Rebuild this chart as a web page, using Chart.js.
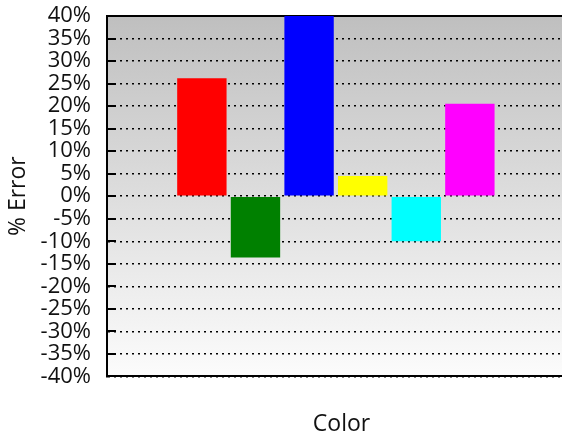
<!DOCTYPE html>
<html>
<head>
<meta charset="utf-8">
<script src="https://cdn.jsdelivr.net/npm/chart.js@4/dist/chart.umd.min.js"></script>
<style>
	html, body { margin: 0; padding: 0; background: #fff; overflow: hidden; }
	canvas { display: block; }
</style>
</head>
<body>
<canvas id="graficoErro" width="576" height="441"></canvas>
<script>
	var categorias = ['Red', 'Green', 'Blue', 'Yellow', 'Cyan', 'Magenta'];
	var valores = [26.2, -13.6, 40, 4.5, -10, 20.5];
	var cores = ['#ff0000', '#008000', '#0000ff', '#ffff00', '#00ffff', '#ff00ff'];
	var ticksY = [-40, -35, -30, -25, -20, -15, -10, -5, 0, 5, 10, 15, 20, 25, 30, 35, 40];

	var fonte = '"Open Sans", "Noto Sans", sans-serif';

	// fundo em degrade + marcas curtas no eixo
	var pluginFundo = {
		id: 'fundo',
		beforeDraw: function(chart) {
			var ctx = chart.ctx;
			var area = chart.chartArea;
			var grad = ctx.createLinearGradient(0, area.top, 0, area.bottom);
			grad.addColorStop(0, '#bfbfbf');
			grad.addColorStop(1, '#fcfcfc');
			ctx.save();
			ctx.fillStyle = grad;
			ctx.fillRect(area.left, area.top, area.right - area.left, area.bottom - area.top);
			ctx.restore();
		},
		beforeDatasetsDraw: function(chart) {
			var ctx = chart.ctx;
			var area = chart.chartArea;
			var y = chart.scales.y;
			ctx.save();
			ctx.strokeStyle = '#000';
			ctx.lineWidth = 2;
			ticksY.forEach(function(v) {
				var py = Math.round(y.getPixelForValue(v));
				ctx.beginPath();
				ctx.moveTo(area.left, py);
				ctx.lineTo(area.left + 9, py);
				ctx.stroke();
			});
			ctx.beginPath();
			ctx.moveTo(area.left, area.top);
			ctx.lineTo(area.right, area.top);
			ctx.stroke();
			ctx.restore();
		}
	};

	var _dados = categorias.map(function(c, i) {
		return { x: i, y: valores[i] };
	});

	new Chart(document.getElementById('graficoErro').getContext('2d'), {
		type: 'bar',
		data: {
			datasets: [{
				label: '% Error',
				data: _dados,
				backgroundColor: cores,
				borderWidth: 0,
				barPercentage: 0.94,
				categoryPercentage: 1
			}]
		},
		options: {
			responsive: false,
			animation: false,
			devicePixelRatio: 1,
			layout: { padding: { left: 0, right: 0, top: 16, bottom: 0 } },
			plugins: {
				legend: { display: false },
				tooltip: { enabled: false }
			},
			scales: {
				x: {
					type: 'linear',
					offset: false,
					min: -1.77,
					max: 6.98,
					ticks: { display: false },
					grid: { display: false, offset: false },
					border: { display: true, color: '#000', width: 2 },
					title: {
						display: true,
						text: 'Color',
						color: '#111',
						font: { family: fonte, size: 23 },
						padding: { top: 26, bottom: 3 }
					}
				},
				y: {
					min: -40,
					max: 40,
					afterFit: function(scale) {
						scale.width = 107;
						scale.paddingTop = 0;
						scale.paddingBottom = 0;
					},
					afterBuildTicks: function(scale) {
						scale.ticks = ticksY.map(function(v) { return { value: v }; });
					},
					ticks: {
						autoSkip: false,
						padding: 16,
						color: '#111',
						font: { family: fonte, size: 22 },
						callback: function(v) { return v + '%'; }
					},
					grid: {
						drawTicks: false,
						color: '#000',
						lineWidth: 1.5
					},
					border: { display: true, color: '#000', width: 2, dash: [2, 4] },
					title: {
						display: true,
						text: '% Error',
						color: '#111',
						font: { family: fonte, size: 23 },
						padding: { top: 5, bottom: 0 }
					}
				}
			}
		},
		plugins: [pluginFundo]
	});
</script>
</body>
</html>
